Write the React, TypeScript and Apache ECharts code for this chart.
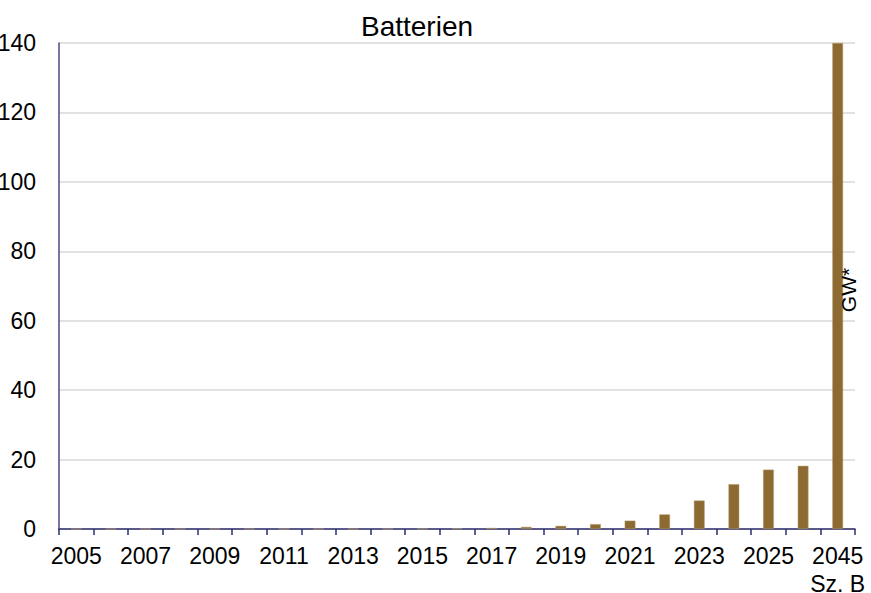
import React, { useEffect, useRef } from "react";
import * as echarts from "echarts";

const categories = [
  "2005", "2006", "2007", "2008", "2009", "2010", "2011", "2012", "2013", "2014",
  "2015", "2016", "2017", "2018", "2019", "2020", "2021", "2022", "2023", "2024",
  "2025", "2026", "2045\nSz. B",
];
const values = [
  0, 0, 0, 0, 0, 0, 0, 0, 0, 0,
  0.05, 0.15, 0.3, 0.6, 0.9, 1.4, 2.4, 4.2, 8.2, 12.9,
  17.1, 18.2, 140,
];
const yTicks = { min: 0, max: 140, interval: 20 };
const title = "Batterien";
const unitLabel = "GW*";

export default function App() {
  const ref = useRef<HTMLDivElement>(null);
  useEffect(() => {
    if (!ref.current) return;
    const chart = echarts.init(ref.current, null, { renderer: "svg" });
    const font = "'Liberation Sans', Arial, sans-serif";
    chart.setOption({
      animation: false,
      title: {
        text: title,
        left: 412,
        textAlign: "center",
        top: 7,
        textStyle: { fontFamily: font, fontSize: 28, fontWeight: "normal", color: "#000" },
      },
      grid: { left: 59, right: 16, top: 43, bottom: 64, containLabel: false, outerBoundsMode: "none" },
      xAxis: {
        type: "category",
        data: categories,
        axisLine: { lineStyle: { color: "#2e2e6e", width: 1.5 } },
        axisTick: { show: true, interval: 0, length: 6, lineStyle: { color: "#2e2e6e", width: 1.5 } },
        axisLabel: {
          interval: 1,
          fontFamily: font,
          fontSize: 23,
          color: "#000",
          margin: 13,
          lineHeight: 28,
        },
      },
      yAxis: {
        type: "value",
        min: yTicks.min,
        max: yTicks.max,
        interval: yTicks.interval,
        axisLine: { show: true, lineStyle: { color: "#4a4a86", width: 1.5 } },
        axisTick: { show: false },
        axisLabel: { fontFamily: font, fontSize: 23, color: "#000", margin: 23 },
        splitLine: { lineStyle: { color: "#d9d9d9", width: 1.5 } },
      },
      series: [
        {
          type: "bar",
          data: values.map((v, i) =>
            i === values.length - 1
              ? {
                  value: v,
                  label: {
                    show: true,
                    formatter: unitLabel,
                    position: "inside",
                    rotate: 90,
                    offset: [-4, 11],
                    fontFamily: font,
                    fontSize: 21,
                    color: "#000",
                  },
                }
              : v
          ),
          barWidth: "31%",
          itemStyle: { color: "#8c6a32", borderColor: "#b59c70", borderWidth: 0.5 },
        },
      ],
    });
    return () => chart.dispose();
  }, []);
  return <div ref={ref} style={{ width: 871, height: 593, position: "absolute", left: 0, top: 0 }} />;
}
